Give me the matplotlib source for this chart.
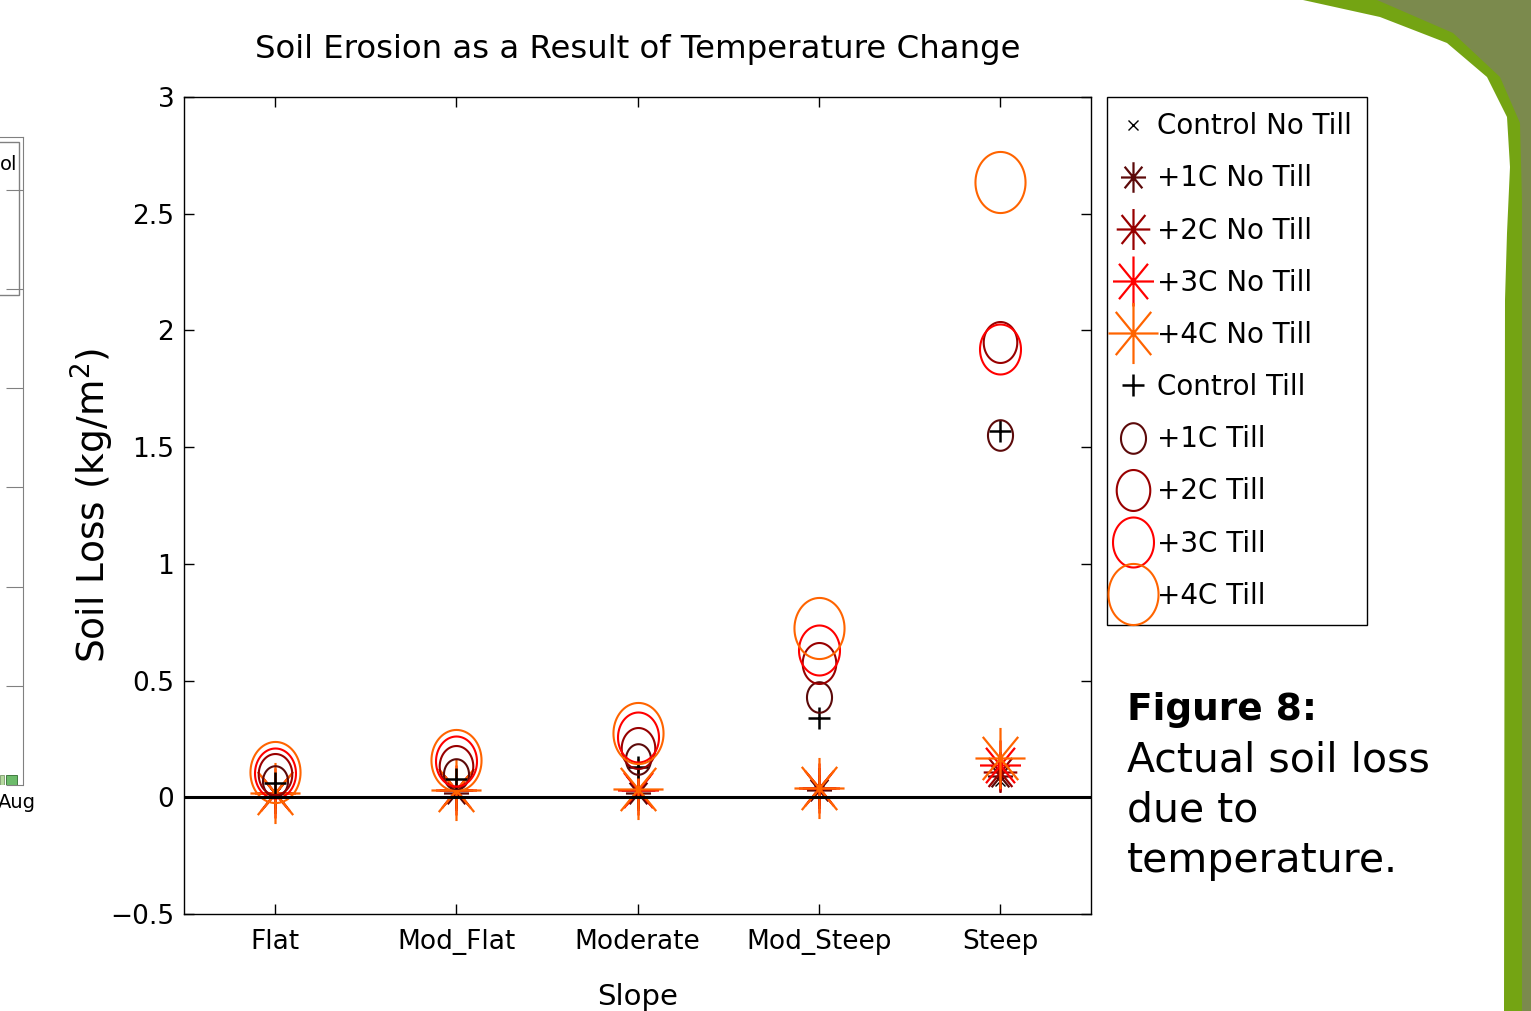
"""Soil erosion as a result of temperature change, redrawn from a slide."""

import matplotlib

matplotlib.use("Agg")

import matplotlib.pyplot as plt
import numpy as np
from matplotlib.patches import Polygon, Rectangle
from matplotlib.path import Path

# --- data ----------------------------------------------------------------
slopes = ["Flat", "Mod_Flat", "Moderate", "Mod_Steep", "Steep"]

control_no_till = [0.02, 0.02, 0.02, 0.03, 0.07]
no_till_1c = [0.02, 0.02, 0.02, 0.03, 0.09]
no_till_2c = [0.02, 0.03, 0.03, 0.04, 0.11]
no_till_3c = [0.02, 0.03, 0.03, 0.04, 0.14]
no_till_4c = [0.02, 0.03, 0.035, 0.04, 0.167]

control_till = [0.06, 0.08, 0.13, 0.34, 1.57]
till_1c = [0.07, 0.10, 0.165, 0.43, 1.55]
till_2c = [0.10, 0.135, 0.21, 0.575, 1.95]
till_3c = [0.105, 0.155, 0.26, 0.63, 1.92]
till_4c = [0.11, 0.16, 0.275, 0.725, 2.635]

y_ticks = [-0.5, 0, 0.5, 1, 1.5, 2, 2.5, 3]
y_tick_labels = ["\u22120.5", "0", "0.5", "1", "1.5", "2", "2.5", "3"]

# fragment of the neighbouring chart on the left edge of the slide
fragment_months = ["Aug"]
fragment_light = [0.10]
fragment_dark = [0.10]

# --- styles ----------------------------------------------------------------
WARM_COLOURS = ["#5c0a0a", "#990000", "#ff0000", "#ff6400"]
WARM_SIZES = [22, 29.5, 36, 44]
STRETCH = 1.22


def _ellipse_marker() -> Path:
    theta = np.linspace(0, 2 * np.pi, 73)
    return Path(np.column_stack([np.cos(theta), STRETCH * np.sin(theta)]), closed=True)


def _asterisk_marker() -> Path:
    vertices = []
    codes = []
    for angle in np.deg2rad([0, 45, 90, 135]):
        dx, dy = np.cos(angle), STRETCH * np.sin(angle)
        vertices += [(-dx, -dy), (dx, dy)]
        codes += [Path.MOVETO, Path.LINETO]
    return Path(vertices, codes)


ELLIPSE = _ellipse_marker()
ASTERISK = _asterisk_marker()

WIDTH, HEIGHT = 1531, 1011
fig = plt.figure(figsize=(WIDTH / 100, HEIGHT / 100), dpi=100)
fig.patch.set_facecolor("white")


def fx(px: float) -> float:
    return px / WIDTH


def fy(px: float) -> float:
    return 1 - px / HEIGHT


# --- green slide decoration on the right -----------------------------------
inner_edge = [(1303, 0), (1380, 17), (1447, 43), (1487, 77), (1507, 117),
              (1510, 167), (1507, 233), (1505, 300), (1504, 1011)]
outer_edge = [(1377, 0), (1453, 33), (1500, 77), (1520, 123), (1522, 200),
              (1522, 300), (1522, 1011)]
band = inner_edge + [(1531, 1011), (1531, 0)]
fig.patches.append(Polygon([(fx(x), fy(y)) for x, y in band], closed=True,
                           transform=fig.transFigure, facecolor="#74a413",
                           edgecolor="none", zorder=0))
olive = outer_edge + [(1531, 1011), (1531, 0)]
fig.patches.append(Polygon([(fx(x), fy(y)) for x, y in olive], closed=True,
                           transform=fig.transFigure, facecolor="#7b8a4d",
                           edgecolor="none", zorder=0))

# --- left-edge fragment of another chart ------------------------------------
frag = fig.add_axes([fx(-300), fy(785), fx(323), fy(137) - fy(785)])
frag.bar([-0.333], fragment_light, width=0.148, color="#b6d99f",
         edgecolor="#7a9a6a", linewidth=0.6)
frag.bar([0.019], fragment_dark, width=0.407, color="#6cbb6a",
         edgecolor="#2f6b2f", linewidth=0.6)
frag.set_xlim(-11.52, 0.444)
frag.set_ylim(0, 6.53)
frag.set_xticks([0.2])
frag.set_xticklabels(fragment_months, fontsize=14)
frag.tick_params(axis="x", length=0, pad=6)
frag.yaxis.tick_right()
frag.set_yticks(range(0, 7))
frag.set_yticklabels([])
frag.tick_params(axis="y", direction="in", length=12, color="#808080")
for side in ("left", "bottom"):
    frag.spines[side].set_visible(False)
for side in ("right", "top"):
    frag.spines[side].set_color("#808080")
frag.add_patch(Rectangle((fx(-100), fy(295)), fx(119), fy(142) - fy(295),
                         transform=fig.transFigure, fill=False,
                         edgecolor="#808080", linewidth=1.0))
fig.text(fx(0), fy(170), "ol", ha="left", va="baseline", fontsize=14)

# --- main chart ---------------------------------------------------------------
ax = fig.add_axes([fx(184), fy(914), fx(1091) - fx(184), fy(97) - fy(914)])
positions = np.arange(1, len(slopes) + 1)

ax.plot(positions, control_no_till, linestyle="none", marker="x",
        color="black", markersize=7, markeredgewidth=1.0, label="Control No Till")
for series, colour, size, name in zip(
    [no_till_1c, no_till_2c, no_till_3c, no_till_4c], WARM_COLOURS, WARM_SIZES,
    ["+1C No Till", "+2C No Till", "+3C No Till", "+4C No Till"],
):
    ax.plot(positions, series, linestyle="none", marker=ASTERISK, color=colour,
            markerfacecolor="none", markersize=size, markeredgewidth=1.6, label=name)

ax.plot(positions, control_till, linestyle="none", marker="+", color="black",
        markersize=16, markeredgewidth=1.8, label="Control Till")
for series, colour, size, name in zip(
    [till_1c, till_2c, till_3c, till_4c], WARM_COLOURS, WARM_SIZES,
    ["+1C Till", "+2C Till", "+3C Till", "+4C Till"],
):
    ax.plot(positions, series, linestyle="none", marker=ELLIPSE, color=colour,
            markerfacecolor="none", markersize=size, markeredgewidth=1.5, label=name)

ax.axhline(0, color="black", linewidth=2.2, zorder=5)

ax.set_xlim(0.5, 5.5)
ax.set_ylim(-0.5, 3)
ax.set_xticks(positions)
ax.set_xticklabels(slopes, fontsize=19)
ax.set_yticks(y_ticks)
ax.set_yticklabels(y_tick_labels, fontsize=19)
ax.tick_params(direction="in", length=7, width=1.0, top=True, right=True)
ax.tick_params(axis="x", pad=11)
ax.tick_params(axis="y", pad=7)
for spine in ax.spines.values():
    spine.set_linewidth(1.0)

ax.set_title("Soil Erosion as a Result of Temperature Change", fontsize=23.3, pad=28)
ax.set_xlabel("Slope", fontsize=21, labelpad=20)
ax.set_ylabel("Soil Loss (kg/m$^{2}$)", fontsize=27, labelpad=-4)

handles, labels = ax.get_legend_handles_labels()
legend = fig.legend(handles, labels, loc="upper left",
                    bbox_to_anchor=(fx(1107), fy(97)), bbox_transform=fig.transFigure,
                    borderaxespad=0, fontsize=20, frameon=True, fancybox=False,
                    edgecolor="black", framealpha=1, numpoints=1,
                    handlelength=0.8, handletextpad=0.45, borderpad=0.55,
                    labelspacing=0.87)
legend.get_frame().set_linewidth(1.0)

# --- caption --------------------------------------------------------------
fig.text(fx(1127), fy(720), "Figure 8:", fontsize=27, fontweight="bold", va="baseline")
for line, baseline in zip(["Actual soil loss", "due to", "temperature."], [771, 822, 872]):
    fig.text(fx(1127), fy(baseline), line, fontsize=29.5, va="baseline")

fig.savefig("out.png", dpi=100)
